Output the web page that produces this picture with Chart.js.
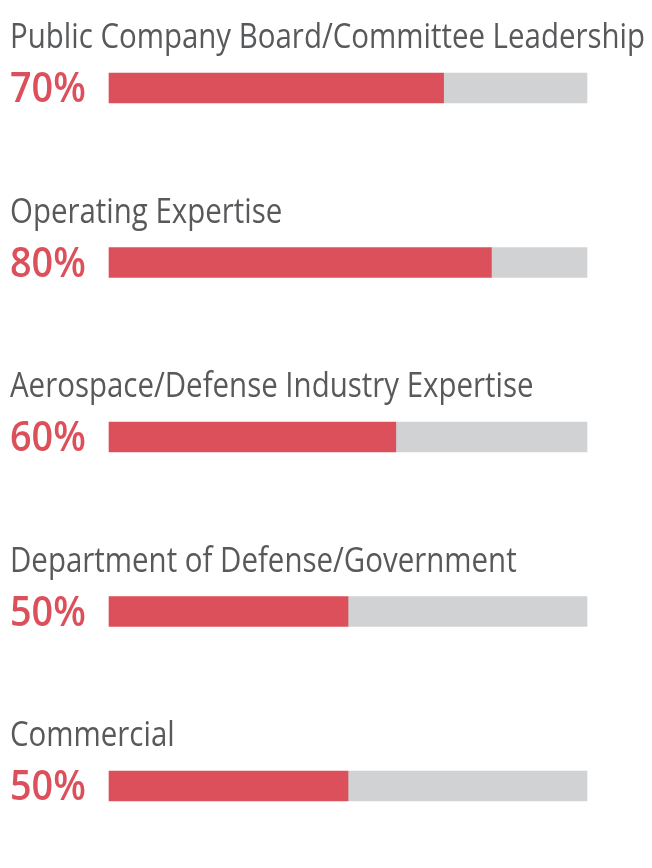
<!DOCTYPE html>
<html>
<head>
<meta charset="utf-8">
<script src="https://cdn.jsdelivr.net/npm/chart.js@4"></script>
<style>
  body { margin: 0; background: #fff; }
  #wrap { width: 652px; height: 868px; position: relative; }
</style>
</head>
<body>
<div id="wrap"><canvas id="chart"></canvas></div>
<script>
const categories = [
    "Public Company Board/Committee Leadership",
    "Operating Expertise",
    "Aerospace/Defense Industry Expertise",
    "Department of Defense/Government",
    "Commercial",
];
const values = [70, 80, 60, 50, 50];
const remainder = values.map((v) => 100 - v);

const RED = "#DC505B";
const GREY = "#D1D2D4";
const TEXT = "#58595B";

// labels above each bar and the percentage at the left
const labelPlugin = {
    id: "labels",
    afterDatasetsDraw(chart) {
        const ctx = chart.ctx;
        const meta = chart.getDatasetMeta(0);
        ctx.save();
        ctx.font = '34px "Open Sans"';
        const fit = 635 / ctx.measureText(categories[0]).width;
        meta.data.forEach((bar, i) => {
            const top = bar.y - 15;
            const bottom = bar.y + 15;
            ctx.save();
            ctx.font = '34px "Open Sans"';
            ctx.fillStyle = TEXT;
            ctx.textBaseline = "alphabetic";
            ctx.translate(10, top - 25);
            ctx.scale(fit, 1);
            ctx.fillText(categories[i], 0, 0);
            ctx.restore();

            ctx.save();
            ctx.font = '600 42px "Open Sans"';
            ctx.fillStyle = RED;
            ctx.translate(10, bottom - 1);
            ctx.scale(0.9, 1);
            ctx.fillText(values[i] + "%", 0, 0);
            ctx.restore();
        });
        ctx.restore();
    },
};

new Chart(document.getElementById("chart"), {
    type: "bar",
    data: {
        labels: categories,
        datasets: [
            { data: values, backgroundColor: RED, borderWidth: 0, barThickness: 30, clip: false },
            { data: remainder, backgroundColor: GREY, borderWidth: 0, barThickness: 30, clip: false },
        ],
    },
    options: {
        indexAxis: "y",
        responsive: true,
        maintainAspectRatio: false,
        animation: false,
        layout: { padding: { left: 109, right: 65, top: 88, bottom: 82 } },
        scales: {
            x: { stacked: true, min: 0, max: 100, display: false },
            y: { stacked: true, offset: false, display: false },
        },
        plugins: { legend: { display: false }, tooltip: { enabled: false } },
    },
    plugins: [labelPlugin],
});
</script>
</body>
</html>
